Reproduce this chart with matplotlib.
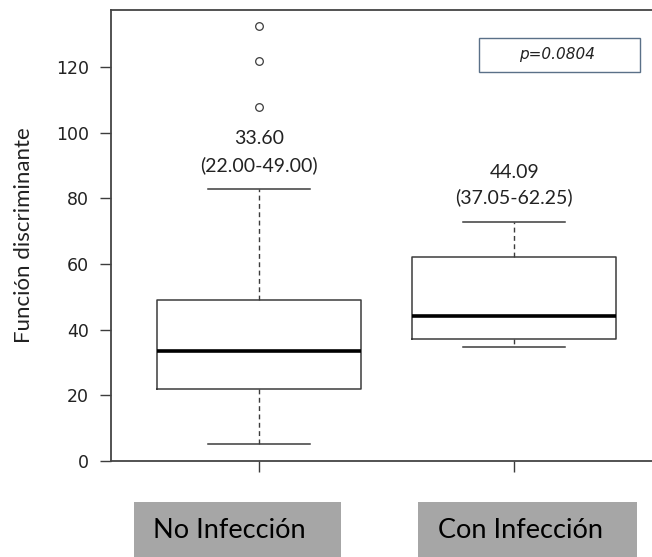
import matplotlib
matplotlib.use("Agg")
import matplotlib.pyplot as plt
from matplotlib.patches import Rectangle

# ---- data ----
categories = ["No Infección", "Con Infección"]
medians = [33.6, 44.09]
q1s = [22.0, 37.05]
q3s = [49.0, 62.25]
whis_lo = [5.2, 34.8]
whis_hi = [83.0, 72.9]
fliers = [[108.0, 122.0, 132.5], []]
median_labels = ["33.60", "44.09"]
iqr_labels = ["(22.00-49.00)", "(37.05-62.25)"]
label_y_top = [98.4, 88.0]
label_y_bot = [90.2, 80.5]
yticks = [0, 20, 40, 60, 80, 100, 120]
p_text = "p=0.0804"
ylabel = "Función discriminante"

W, H = 652, 557
fig = plt.figure(figsize=(W / 100, H / 100), dpi=100)
fig.patch.set_facecolor("white")

ax = fig.add_axes([111 / W, 1 - 461 / H, (652 - 111) / W, (461 - 10) / H])

line_col = "#3c3c3c"
stats = []
for i in range(len(categories)):
    stats.append(dict(med=medians[i], q1=q1s[i], q3=q3s[i],
                      whislo=whis_lo[i], whishi=whis_hi[i],
                      fliers=fliers[i], label=categories[i]))

ax.bxp(stats, positions=[1, 2], widths=0.8, capwidths=0.4,
       boxprops=dict(color=line_col, linewidth=1.1),
       medianprops=dict(color="black", linewidth=2.6),
       whiskerprops=dict(color=line_col, linewidth=1.0, linestyle=(0, (3.5, 2.5))),
       capprops=dict(color=line_col, linewidth=1.1),
       flierprops=dict(marker="o", markersize=5.5, markerfacecolor="none",
                       markeredgecolor=line_col, markeredgewidth=0.9),
       manage_ticks=False)

ax.set_xlim(0.42, 2.54)
ax.set_ylim(0, 137.4)
ax.set_yticks(yticks)
ax.set_xticks([1, 2])
ax.set_xticklabels([])
ax.tick_params(axis="y", length=8, width=1.0, color=line_col, pad=8,
               labelsize=12.5, labelcolor="#222222")
ax.tick_params(axis="x", length=8, width=1.0, color=line_col)
for lab in ax.get_yticklabels():
    lab.set_family("DejaVu Sans")
ax.spines["right"].set_visible(False)
for s in ["left", "top", "bottom"]:
    ax.spines[s].set_color("#444444")
    ax.spines[s].set_linewidth(1.3)

# annotations
for i in range(len(categories)):
    ax.text(i + 1, label_y_top[i], median_labels[i], ha="center", va="center",
            fontsize=14, family="Lato", color="#222222")
    ax.text(i + 1, label_y_bot[i], iqr_labels[i], ha="center", va="center",
            fontsize=14, family="Lato", color="#222222")

# p-value box
fig.patches.append(Rectangle((479 / W, 1 - 71.7 / H), (640 - 479) / W, (71.7 - 38.3) / H,
                             transform=fig.transFigure, facecolor="white",
                             edgecolor="#5a7088", linewidth=1.0))
fig.text(557 / W, 1 - 55 / H, p_text, ha="center", va="center", fontsize=11,
         family="DejaVu Sans", style="italic", color="#222222")

# y label
fig.text(24 / W, 1 - 235 / H, ylabel, rotation=90, ha="center", va="center",
         fontsize=16, family="Lato", color="#222222")

# category boxes
box_x = [(134, 341), (418, 637)]
text_x = [153, 438]
for i, cat in enumerate(categories):
    x0, x1 = box_x[i]
    fig.patches.append(Rectangle((x0 / W, 0), (x1 - x0) / W, (557 - 502) / H,
                                 transform=fig.transFigure, facecolor="#a6a6a6",
                                 edgecolor="none"))
    fig.text(text_x[i] / W, 1 - 531 / H, cat, ha="left", va="center",
             fontsize=19.5, family="Lato", color="black")

fig.savefig("out.png", dpi=100)
